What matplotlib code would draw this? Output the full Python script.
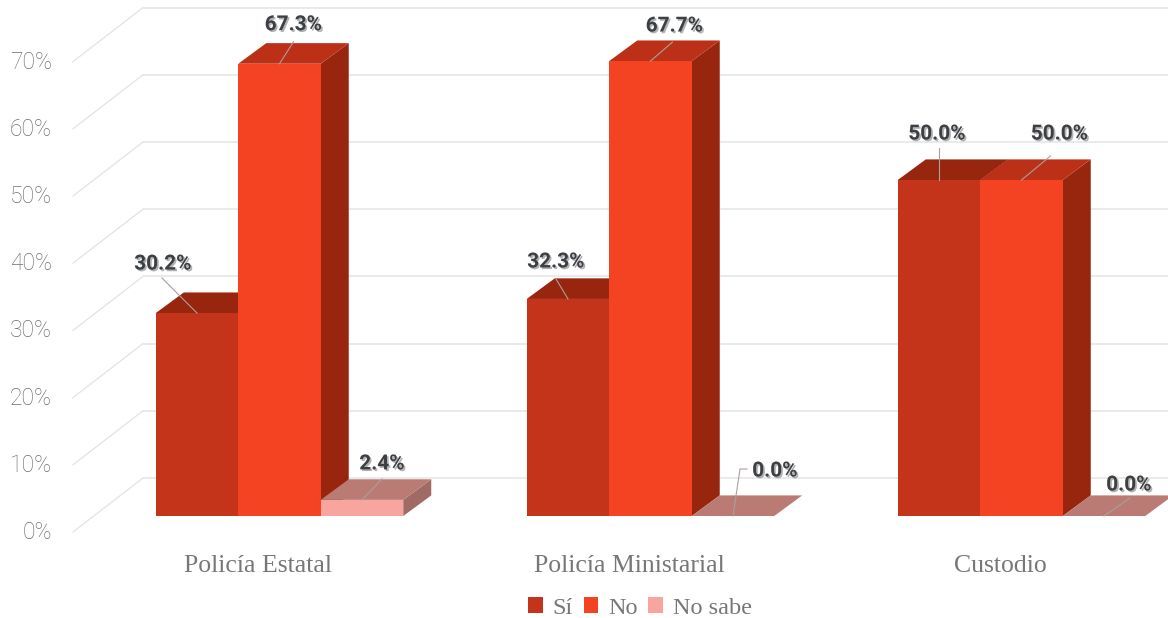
import matplotlib
matplotlib.use("Agg")
import matplotlib.pyplot as plt
import matplotlib.patheffects as pe
from matplotlib.patches import Patch
from matplotlib.transforms import ScaledTranslation

categories = ["Policía Estatal", "Policía Ministarial", "Custodio"]
series_names = ["Sí", "No", "No sabe"]
si_values = [30.2, 32.3, 50.0]
no_values = [67.3, 67.7, 50.0]
nosabe_values = [2.4, 0.0, 0.0]
y_ticks = [0, 10, 20, 30, 40, 50, 60, 70]
y_labels = ["0%", "10%", "20%", "30%", "40%", "50%", "60%", "70%"]

W, H = 1168, 618
PX_X = 371.0       # pixels per category
PX_Y = 6.72        # pixels per percent
X0, Y0 = 258.0, 516.0
L, B = 52, 545
fig = plt.figure(figsize=(W / 100, H / 100), dpi=100, facecolor="white")
ax = fig.add_axes([L / W, (H - B) / H, (W - L) / W, B / H])
ax.set_xlim((L - X0) / PX_X, (W - X0) / PX_X)
ax.set_ylim((Y0 - B) / PX_Y, Y0 / PX_Y)
for s in ax.spines.values():
    s.set_visible(False)

GREY = "#6e6e6e"


def ux(px):
    return px / PX_X


def uy(px):
    return px / PX_Y


# walls: horizontal grid on the back plane, diagonals on the side wall
for t in y_ticks:
    yb = t + uy(38)
    ax.plot([ux(143 - X0), ux(W + 10 - X0)], [yb, yb], color="#e6e6e6", lw=1.2, zorder=1, clip_on=False, solid_capstyle="butt")
    ax.plot([ux(73 - X0), ux(143 - X0)], [t - uy(16), yb], color="#e2e2e2", lw=0.9, zorder=1, clip_on=False)

BAR_W = 82.5 / PX_X
GROUP_SHIFT = ux(279.5 - X0)
DX, DY = ux(28), uy(20.6)
face = ["#C4341A", "#F44323", "#F9A59F"]
top_c = ["#98260F", "#BC3018", "#BA7B75"]
side_c = ["#98260F", "#98260F", "#A06A66"]
all_vals = [si_values, no_values, nosabe_values]

z = 2
for i in range(len(categories)):
    for j, vals in enumerate(all_vals):
        v = vals[i]
        x0 = i + GROUP_SHIFT + (j - 1.5) * BAR_W
        x1 = x0 + BAR_W
        ax.fill([x1, x1 + DX, x1 + DX, x1], [0, DY, v + DY, v], color=side_c[j], lw=0, zorder=z, clip_on=False)
        ax.fill([x0, x1, x1 + DX, x0 + DX], [v, v, v + DY, v + DY], color=top_c[j], lw=0, zorder=z, clip_on=False)
        if v > 0:
            ax.bar(x0, v, width=BAR_W, align="edge", color=face[j], lw=0, zorder=z + 0.5)
        z += 1

# labels: pixel offsets of label centre, and leader line vertices, from the bar's top-centre
label_layout = [
    [(-34, -49, [(0, 0), (-35, -35)]), (-12, -37, [(0, 0), (-12, -20)]), (-2, -46, [(0, 0), (0, -32)])],
    [(14, -39, [(0, 0), (14, -22)]), (24, -35, [(0, 0), (22, -19)]), (38, -46, [(0, 0), (29, -24)])],
    [(20, -36, [(0, 0), (20, -21)]), (42, -45, [(0, 0), (7, -47), (14, -47)]), (25, -31, [(0, 0), (26, -18)])],
]
shadow = [pe.withSimplePatchShadow(offset=(1.2, -1.2), shadow_rgbFace="#666666", alpha=0.5)]
for j, vals in enumerate(all_vals):
    for i, v in enumerate(vals):
        cx = i + GROUP_SHIFT + (j - 1) * BAR_W
        ox, oy, pts = label_layout[j][i]
        ax.plot([cx + ux(p[0]) for p in pts], [v - uy(p[1]) for p in pts], color="#a9a09c", lw=0.8, zorder=50, clip_on=False)
        ax.text(cx + ux(ox), v - uy(oy), f"{v:.1f}%", ha="center", va="center", fontsize=15,
                fontweight="bold", family="Roboto", color="#3c3f44", zorder=60, path_effects=shadow)

ax.set_yticks(y_ticks)
ax.set_yticklabels(y_labels, family="Roboto", fontsize=16.5, color=GREY, fontweight="light")
ax.set_xticks(range(len(categories)))
ax.set_xticklabels(categories, family="Liberation Serif", fontsize=18.5, color="#777777")
ax.tick_params(length=0, axis="y", pad=0)
ax.tick_params(length=0, axis="x", pad=7)
shift = ScaledTranslation(0, -14 / 100, fig.dpi_scale_trans)
for lab in ax.get_yticklabels():
    lab.set_transform(lab.get_transform() + shift)

handles = [Patch(facecolor=c, lw=0) for c in face]
leg = fig.legend(handles, series_names, ncol=3, loc="center", bbox_to_anchor=(640 / W, (H - 608) / H),
                 frameon=False, handlelength=0.6, handleheight=0.6, handletextpad=0.4,
                 columnspacing=0.45, prop={"family": "Liberation Serif", "size": 17.5}, labelcolor="#777777")

fig.savefig("out.png", dpi=100, facecolor="white")
